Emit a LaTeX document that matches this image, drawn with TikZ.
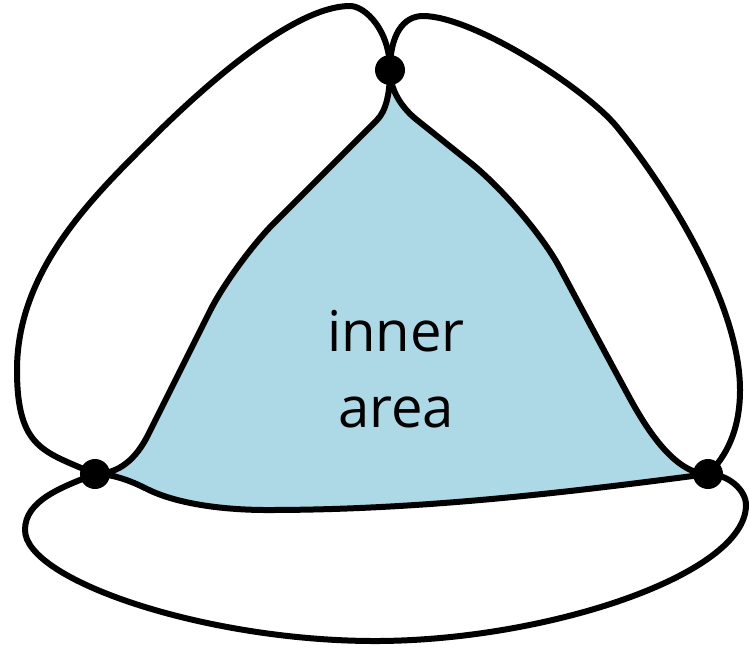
\documentclass[tikz,border=0pt]{standalone}
\usepackage{fontspec}
\newfontfamily\labelfont{Open Sans}
\usepackage{tikz}
\usetikzlibrary{calc}
\usepackage{xcolor}
\definecolor{innerfill}{RGB}{173,216,230}
\tikzset{
  vertex/.style={circle,fill=black,minimum size=0.6cm,inner sep=0pt},
  link/.style={draw=black,line width=0.12cm,line cap=round,line join=round},
  region/.style={fill=innerfill},
  areatext/.style={font=\labelfont\fontsize{32pt}{43pt}\selectfont,align=center,inner sep=0pt}
}

\begin{document}
\begin{tikzpicture}[x=0.02cm,y=-0.02cm]
  \useasboundingbox (0,0) rectangle (750,647);
  % vertices
  \coordinate (T) at (390,70);
  \coordinate (L) at (95,474);
  \coordinate (R) at (708,474);
  % points the inner edges pass through
  \coordinate (tl1) at (377,120);
  \coordinate (tl2) at (275,222);
  \coordinate (tl3) at (210,311);
  \coordinate (tl4) at (147,437);
  \coordinate (lr1) at (147,489);
  \coordinate (lr2) at (267,510);
  \coordinate (tr1) at (417,120);
  \coordinate (tr2) at (470,162.4);
  \coordinate (tr3) at (560,268.2);
  \coordinate (tr4) at (627,393);
  % points the outer edges pass through
  \coordinate (ol1) at (350,6);
  \coordinate (ol2) at (150,140);
  \coordinate (ol3) at (17,370);
  \coordinate (or1) at (423,16);
  \coordinate (or2) at (617,127);
  \coordinate (or3) at (740,390);
  \coordinate (ob1) at (25,530);
  \coordinate (ob2) at (375,641);
  \coordinate (ob3) at (746,505);
  % inner area
  \path[region,link] (T) .. controls (390,95) and (385.5,111.5) .. (tl1)
      .. controls (343,154) and (309,188) .. (tl2)
      .. controls (252.45,244.55) and (223.2,284.6) .. (tl3)
      .. controls (189,353) and (168,395) .. (tl4)
      .. controls (140,450) and (125,474) .. (L)
      .. controls (115,474) and (133.5,482.25) .. (lr1)
      .. controls (178.5,504.75) and (227,510) .. (lr2)
      .. controls (417,510) and (559.5,493.5) .. (R)
      .. controls (673,474) and (643.5,423.8) .. (tr4)
      .. controls (605,352.4) and (582,309.35) .. (tr3)
      .. controls (542.6,235.7) and (502.1,188.1) .. (tr2)
      .. controls (452.3,148.3) and (434.7,134.1) .. (tr1)
      .. controls (407.6,112.6) and (390,95) .. (T) -- cycle;
  \node[areatext] (label) at (396,369) {inner\\area};
  % outer edges
  \draw[link] (T) .. controls (390,30) and (365,6) .. (ol1)
      .. controls (290,6) and (192.4,97.6) .. (ol2)
      .. controls (93.4,196.6) and (17,270) .. (ol3)
      .. controls (17,450) and (45,451.4) .. (L);
  \draw[link] (T) .. controls (390,35) and (403,16) .. (or1)
      .. controls (473,16) and (585.4,88.3) .. (or2)
      .. controls (661.3,181.2) and (740,300) .. (or3)
      .. controls (740,430) and (726.25,456.75) .. (R);
  \draw[link] (L) .. controls (62.5,487) and (25,500) .. (ob1)
      .. controls (25,580) and (205,641) .. (ob2)
      .. controls (545,641) and (746,575) .. (ob3)
      .. controls (746,490) and (728,474) .. (R);
  % vertex dots
  \foreach \v in {T,L,R}
    \node[vertex] (dot-\v) at (\v) {};
\end{tikzpicture}
\end{document}
